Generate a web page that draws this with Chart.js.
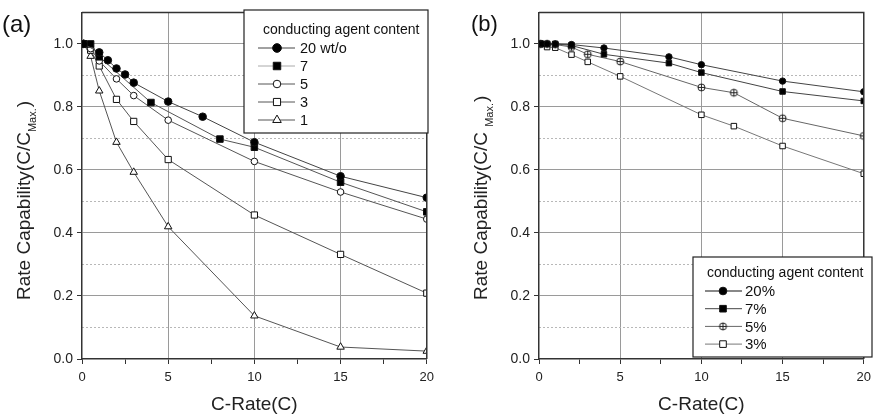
<!DOCTYPE html>
<html>
<head>
<meta charset="utf-8">
<script src="https://cdn.jsdelivr.net/npm/chart.js@4.4.0/dist/chart.umd.min.js"></script>
<style>
html, body { margin: 0; padding: 0; background: #fff; }
#rateA { position: absolute; left: 0; top: 0; }
#rateB { position: absolute; left: 440px; top: 0; }
</style>
</head>
<body>
<canvas id="rateA" width="440" height="416"></canvas>
<canvas id="rateB" width="437" height="416"></canvas>
<script>
// (a) conducting agent content, wt/o
const labelsA = ['20 wt/o', '7', '5', '3', '1'];
const rateA20 = [0.1, 1, 1.5, 2, 2.5, 3, 5, 7, 10, 15, 20];
const capA20  = [1.0, 0.973, 0.948, 0.922, 0.903, 0.877, 0.817, 0.769, 0.688, 0.580, 0.512];
const rateA7  = [0.1, 0.5, 1, 4, 8, 10, 15, 20];
const capA7   = [1.0, 1.0, 0.959, 0.814, 0.698, 0.672, 0.561, 0.467];
const rateA5  = [0.1, 0.5, 1, 2, 3, 5, 10, 15, 20];
const capA5   = [1.0, 0.985, 0.946, 0.889, 0.836, 0.758, 0.627, 0.530, 0.444];
const rateA3  = [0.1, 0.5, 1, 2, 3, 5, 10, 15, 20];
const capA3   = [1.0, 0.980, 0.930, 0.824, 0.754, 0.633, 0.457, 0.332, 0.209];
const rateA1  = [0.1, 0.5, 1, 2, 3, 5, 10, 15, 20];
const capA1   = [1.0, 0.961, 0.851, 0.688, 0.593, 0.420, 0.137, 0.038, 0.025];

// (b) conducting agent content, %
const labelsB = ['20%', '7%', '5%', '3%'];
const rateB20 = [0.1, 0.2, 0.5, 1, 2, 4, 8, 10, 15, 20];
const capB20  = [1.0, 1.0, 1.0, 1.0, 0.998, 0.987, 0.959, 0.934, 0.882, 0.848];
const rateB7  = [0.1, 0.5, 1, 2, 4, 8, 10, 15, 20];
const capB7   = [1.0, 1.0, 1.0, 0.995, 0.967, 0.939, 0.909, 0.849, 0.819];
const rateB5  = [0.1, 0.5, 1, 2, 3, 5, 10, 12, 15, 20];
const capB5   = [1.0, 1.0, 0.998, 0.990, 0.967, 0.944, 0.862, 0.845, 0.764, 0.708];
const rateB3  = [0.1, 0.5, 1, 2, 3, 5, 10, 12, 15, 20];
const capB3   = [1.0, 0.990, 0.988, 0.966, 0.943, 0.897, 0.775, 0.739, 0.676, 0.588];

const xTicks = [0, 2.5, 5, 7.5, 10, 12.5, 15, 17.5, 20];
const yTicks = [0, 0.2, 0.4, 0.6, 0.8, 1.0];
const yMinorTicks = [0.1, 0.3, 0.5, 0.7, 0.9];

const FONT = "'Liberation Sans', Arial, sans-serif";
const CLEAR = 'rgba(0,0,0,0)';

function pts(xs, ys) {
    return xs.map((x, i) => ({ x: x, y: ys[i] }));
}

// circle with a cross inside, for the 5% series
function circlePlus(r) {
    const c = document.createElement('canvas');
    const s = 2 * Math.round(r) + 3;
    c.width = s; c.height = s;
    const g = c.getContext('2d');
    const m = s / 2;
    g.strokeStyle = '#222'; g.lineWidth = 1; g.fillStyle = '#fff';
    g.beginPath(); g.arc(m, m, r, 0, Math.PI * 2); g.fill(); g.stroke();
    g.beginPath();
    g.moveTo(m - r, m); g.lineTo(m + r, m);
    g.moveTo(m, m - r); g.lineTo(m, m + r);
    g.stroke();
    return c;
}

function series(label, xs, ys, style, radius, fill, line, legendLine, legendWidth) {
    return {
        label: label,
        data: pts(xs, ys),
        pointStyle: style,
        pointRadius: radius,
        pointBackgroundColor: fill,
        pointBorderColor: '#111',
        pointBorderWidth: 1,
        borderColor: line,
        borderWidth: 1,
        tension: 0,
        legendLine: legendLine || line,
        legendWidth: legendWidth || 1
    };
}

function makeScales(yWidth) {
    return {
        x: {
            type: 'linear', min: 0, max: 20,
            afterBuildTicks: s => { s.ticks = xTicks.map(v => ({ value: v })); },
            afterFit: s => { s.height = 57; },
            grid: {
                color: c => (c.tick && c.tick.value % 5 === 0 && c.tick.value > 0 && c.tick.value < 20) ? '#9a9a9a' : CLEAR,
                tickColor: '#333', tickLength: 5, lineWidth: 1
            },
            border: { color: '#333', width: 1.5 },
            ticks: {
                callback: v => (v % 5 === 0 ? String(v) : ''),
                font: { family: FONT, size: 13 }, color: '#222', padding: 6,
                maxRotation: 0, autoSkip: false
            },
            title: { display: true, text: 'C-Rate(C)', font: { family: FONT, size: 19 }, color: '#222', padding: 0 }
        },
        y: {
            type: 'linear', min: 0, max: 1.1, position: 'left',
            afterBuildTicks: s => { s.ticks = yTicks.map(v => ({ value: v })); },
            afterFit: s => { s.width = yWidth; },
            grid: {
                color: c => (c.tick && c.tick.value > 0) ? '#9a9a9a' : CLEAR,
                tickColor: '#333', tickLength: 5
            },
            border: { color: '#333', width: 1.5 },
            ticks: { callback: v => v.toFixed(1), font: { family: FONT, size: 14 }, color: '#222', padding: 4 }
        },
        yMinor: {
            type: 'linear', min: 0, max: 1.1, position: 'left',
            afterBuildTicks: s => { s.ticks = yMinorTicks.map(v => ({ value: v })); },
            afterFit: s => { s.width = 0; },
            grid: { color: '#b8b8b8', drawTicks: false },
            border: { display: false, dash: [2, 2] },
            ticks: { display: false }
        }
    };
}

// frame, panel tag, y title with subscript, and boxed legend
const decor = {
    id: 'decor',
    afterDraw(chart, args, o) {
        const ctx = chart.ctx, a = chart.chartArea;
        ctx.save();
        ctx.strokeStyle = '#333'; ctx.lineWidth = 1.5;
        ctx.beginPath();
        ctx.moveTo(a.left, a.top); ctx.lineTo(a.right, a.top); ctx.lineTo(a.right, a.bottom);
        ctx.stroke();

        ctx.fillStyle = '#111';
        ctx.textBaseline = 'alphabetic';
        ctx.font = o.tagSize + 'px ' + FONT;
        ctx.fillText(o.tag, o.tagX, o.tagY);

        // y axis title
        ctx.save();
        ctx.translate(o.ytX, o.ytY);
        ctx.rotate(-Math.PI / 2);
        ctx.fillStyle = '#222';
        ctx.font = '19px ' + FONT;
        const p1 = 'Rate Capability(C/C' + o.subGap;
        ctx.fillText(p1, 0, 0);
        let x = ctx.measureText(p1).width;
        ctx.font = '11px ' + FONT;
        ctx.fillText('Max.', x, 6);
        x += ctx.measureText('Max.').width + 1;
        ctx.font = '19px ' + FONT;
        ctx.fillText(')', x, 0);
        ctx.restore();

        // legend
        const L = o.legend;
        ctx.fillStyle = '#fff';
        ctx.fillRect(L.x, L.y, L.w, L.h);
        ctx.strokeStyle = '#222'; ctx.lineWidth = 1.2;
        ctx.strokeRect(L.x, L.y, L.w, L.h);
        ctx.fillStyle = '#111';
        ctx.textBaseline = 'middle';
        ctx.font = L.titleSize + 'px ' + FONT;
        ctx.fillText('conducting agent content', L.titleX, L.titleY);
        chart.data.datasets.forEach((ds, i) => {
            const y = L.rowY + i * L.rowDy;
            ctx.strokeStyle = ds.legendLine; ctx.lineWidth = ds.legendWidth;
            ctx.beginPath(); ctx.moveTo(L.lineX0, y); ctx.lineTo(L.lineX1, y); ctx.stroke();
            ctx.fillStyle = ds.pointBackgroundColor;
            ctx.strokeStyle = ds.pointBorderColor; ctx.lineWidth = 1;
            Chart.helpers.drawPoint(ctx, {
                pointStyle: ds.pointStyle, radius: ds.pointRadius * L.markScale,
                borderWidth: 1, rotation: 0
            }, L.markX, y);
            ctx.fillStyle = '#111';
            ctx.font = L.rowSize + 'px ' + FONT;
            ctx.fillText(ds.label, L.textX, y + 1);
        });
        ctx.restore();
    }
};

new Chart(document.getElementById('rateA'), {
    type: 'line',
    data: {
        datasets: [
            series(labelsA[0], rateA20, capA20, 'circle', 3.8, '#000', '#444'),
            series(labelsA[1], rateA7, capA7, 'rect', 4.6, '#000', '#555', '#aaa'),
            series(labelsA[2], rateA5, capA5, 'circle', 3.3, '#fff', '#555'),
            series(labelsA[3], rateA3, capA3, 'rect', 4.4, '#fff', '#555'),
            series(labelsA[4], rateA1, capA1, 'triangle', 4.3, '#fff', '#555')
        ]
    },
    options: {
        responsive: false, animation: false,
        layout: { autoPadding: false, padding: { top: 10, right: 11, left: 0, bottom: 0 } },
        scales: makeScales(82),
        plugins: {
            legend: { display: false }, tooltip: { enabled: false },
            decor: {
                tag: '(a)', tagSize: 24, tagX: 2, tagY: 32,
                ytX: 30, ytY: 300, subGap: '',
                legend: {
                    x: 244, y: 10, w: 184, h: 123,
                    titleX: 263, titleY: 30, titleSize: 14,
                    rowY: 48, rowDy: 18, rowSize: 14.5,
                    lineX0: 258, lineX1: 295, markX: 277, textX: 300, markScale: 1.15
                }
            }
        }
    },
    plugins: [decor]
});

new Chart(document.getElementById('rateB'), {
    type: 'line',
    data: {
        datasets: [
            series(labelsB[0], rateB20, capB20, 'circle', 3.2, '#000', '#444', '#888', 2),
            series(labelsB[1], rateB7, capB7, 'rect', 3.9, '#000', '#444'),
            series(labelsB[2], rateB5, capB5, circlePlus(3.5), 3.5, '#fff', '#666'),
            series(labelsB[3], rateB3, capB3, 'rect', 3.9, '#fff', '#777')
        ]
    },
    options: {
        responsive: false, animation: false,
        layout: { autoPadding: false, padding: { top: 11, right: 6, left: 0, bottom: 0 } },
        scales: makeScales(99),
        plugins: {
            legend: { display: false }, tooltip: { enabled: false },
            decor: {
                tag: '(b)', tagSize: 22, tagX: 31, tagY: 31,
                ytX: 47, ytY: 300, subGap: ' ',
                legend: {
                    x: 253, y: 257, w: 179, h: 100,
                    titleX: 267, titleY: 273, titleSize: 14,
                    rowY: 291, rowDy: 17.7, rowSize: 15,
                    lineX0: 265, lineX1: 302, markX: 283, textX: 305, markScale: 1.2
                }
            }
        }
    },
    plugins: [decor]
});
</script>
</body>
</html>
